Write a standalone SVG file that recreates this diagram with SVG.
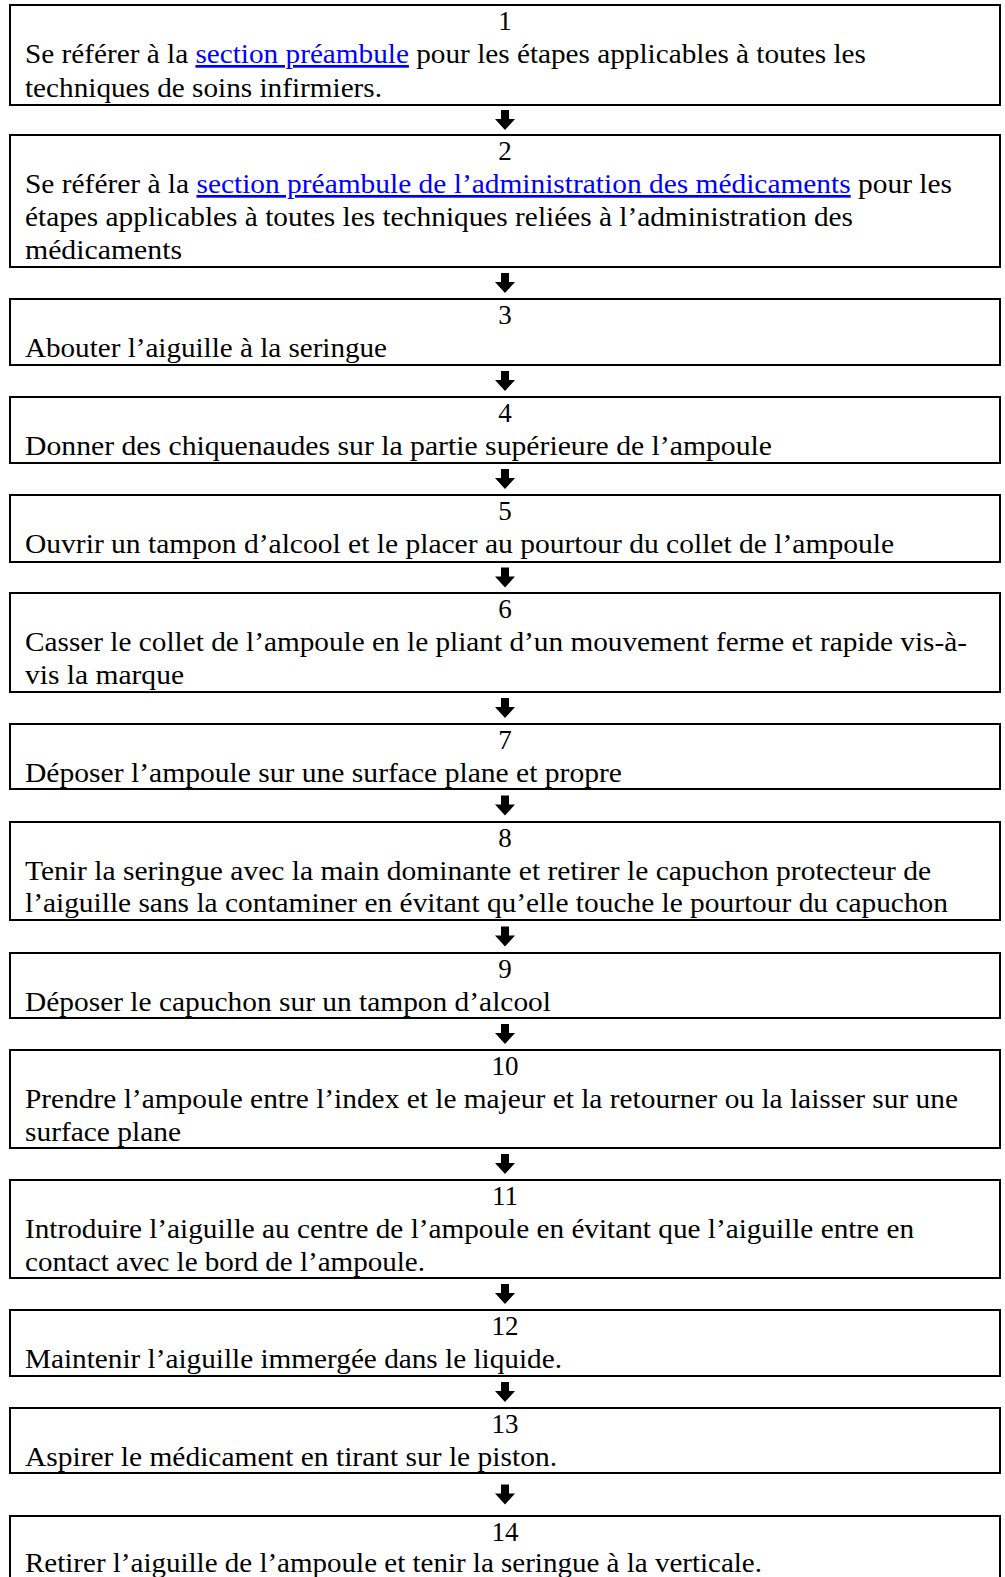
<svg xmlns="http://www.w3.org/2000/svg" width="1005" height="1577" viewBox="0 0 1005 1577">
<style>
.box{fill:#fff;stroke:#000;stroke-width:2}
.n{font-family:"Liberation Serif","Times New Roman",serif;font-size:27px;fill:#000;text-anchor:middle}
.t{font-family:"Liberation Serif","Times New Roman",serif;font-size:27px;fill:#000}
.lk{fill:#0000ff;text-decoration:underline}
.arr{fill:#000;stroke:none}
</style>
<rect width="1005" height="1577" fill="#fff"/>
<g id="connectors">
<path class="arr" d="M501 110h8v9h6l-10 11l-10 -11h6z"/>
<path class="arr" d="M501 273h8v9h6l-10 11l-10 -11h6z"/>
<path class="arr" d="M501 371h8v9h6l-10 11l-10 -11h6z"/>
<path class="arr" d="M501 469h8v9h6l-10 11l-10 -11h6z"/>
<path class="arr" d="M501 567.5h8v9h6l-10 11l-10 -11h6z"/>
<path class="arr" d="M501 698h8v9h6l-10 11l-10 -11h6z"/>
<path class="arr" d="M501 795.5h8v9h6l-10 11l-10 -11h6z"/>
<path class="arr" d="M501 926.5h8v9h6l-10 11l-10 -11h6z"/>
<path class="arr" d="M501 1024h8v9h6l-10 11l-10 -11h6z"/>
<path class="arr" d="M501 1154h8v9h6l-10 11l-10 -11h6z"/>
<path class="arr" d="M501 1284h8v9h6l-10 11l-10 -11h6z"/>
<path class="arr" d="M501 1382h8v9h6l-10 11l-10 -11h6z"/>
<path class="arr" d="M501 1484.5h8v9h6l-10 11l-10 -11h6z"/>
</g>
<g id="step1">
<rect class="box" x="10" y="5" width="990" height="100"/>
<text class="n" x="505" y="30">1</text>
<text class="t" x="25" y="63" textLength="841" lengthAdjust="spacingAndGlyphs">Se référer à la <tspan class="lk">section préambule</tspan> pour les étapes applicables à toutes les</text>
<text class="t" x="25" y="97" textLength="357" lengthAdjust="spacingAndGlyphs">techniques de soins infirmiers.</text>
</g>
<g id="step2">
<rect class="box" x="10" y="135" width="990" height="132"/>
<text class="n" x="505" y="160">2</text>
<text class="t" x="25" y="193" textLength="927" lengthAdjust="spacingAndGlyphs">Se référer à la <tspan class="lk">section préambule de l’administration des médicaments</tspan> pour les</text>
<text class="t" x="25" y="226" textLength="828" lengthAdjust="spacingAndGlyphs">étapes applicables à toutes les techniques reliées à l’administration des</text>
<text class="t" x="25" y="259" textLength="157" lengthAdjust="spacingAndGlyphs">médicaments</text>
</g>
<g id="step3">
<rect class="box" x="10" y="299" width="990" height="66"/>
<text class="n" x="505" y="324">3</text>
<text class="t" x="25" y="357" textLength="362" lengthAdjust="spacingAndGlyphs">Abouter l’aiguille à la seringue</text>
</g>
<g id="step4">
<rect class="box" x="10" y="397" width="990" height="66"/>
<text class="n" x="505" y="422">4</text>
<text class="t" x="25" y="455" textLength="747" lengthAdjust="spacingAndGlyphs">Donner des chiquenaudes sur la partie supérieure de l’ampoule</text>
</g>
<g id="step5">
<rect class="box" x="10" y="495" width="990" height="67"/>
<text class="n" x="505" y="520">5</text>
<text class="t" x="25" y="553" textLength="869" lengthAdjust="spacingAndGlyphs">Ouvrir un tampon d’alcool et le placer au pourtour du collet de l’ampoule</text>
</g>
<g id="step6">
<rect class="box" x="10" y="593" width="990" height="99"/>
<text class="n" x="505" y="618">6</text>
<text class="t" x="25" y="651" textLength="942" lengthAdjust="spacingAndGlyphs">Casser le collet de l’ampoule en le pliant d’un mouvement ferme et rapide vis-à-</text>
<text class="t" x="25" y="684" textLength="159" lengthAdjust="spacingAndGlyphs">vis la marque</text>
</g>
<g id="step7">
<rect class="box" x="10" y="724" width="990" height="65"/>
<text class="n" x="505" y="749">7</text>
<text class="t" x="25" y="782" textLength="597" lengthAdjust="spacingAndGlyphs">Déposer l’ampoule sur une surface plane et propre</text>
</g>
<g id="step8">
<rect class="box" x="10" y="822" width="990" height="98"/>
<text class="n" x="505" y="847">8</text>
<text class="t" x="25" y="880" textLength="906" lengthAdjust="spacingAndGlyphs">Tenir la seringue avec la main dominante et retirer le capuchon protecteur de</text>
<text class="t" x="25" y="912" textLength="923" lengthAdjust="spacingAndGlyphs">l’aiguille sans la contaminer en évitant qu’elle touche le pourtour du capuchon</text>
</g>
<g id="step9">
<rect class="box" x="10" y="953" width="990" height="65"/>
<text class="n" x="505" y="978">9</text>
<text class="t" x="25" y="1011" textLength="526" lengthAdjust="spacingAndGlyphs">Déposer le capuchon sur un tampon d’alcool</text>
</g>
<g id="step10">
<rect class="box" x="10" y="1050" width="990" height="98"/>
<text class="n" x="505" y="1075">10</text>
<text class="t" x="25" y="1108" textLength="933" lengthAdjust="spacingAndGlyphs">Prendre l’ampoule entre l’index et le majeur et la retourner ou la laisser sur une</text>
<text class="t" x="25" y="1141" textLength="156" lengthAdjust="spacingAndGlyphs">surface plane</text>
</g>
<g id="step11">
<rect class="box" x="10" y="1180" width="990" height="98"/>
<text class="n" x="505" y="1205">11</text>
<text class="t" x="25" y="1238" textLength="889" lengthAdjust="spacingAndGlyphs">Introduire l’aiguille au centre de l’ampoule en évitant que l’aiguille entre en</text>
<text class="t" x="25" y="1271" textLength="400" lengthAdjust="spacingAndGlyphs">contact avec le bord de l’ampoule.</text>
</g>
<g id="step12">
<rect class="box" x="10" y="1310" width="990" height="66"/>
<text class="n" x="505" y="1335">12</text>
<text class="t" x="25" y="1368" textLength="537" lengthAdjust="spacingAndGlyphs">Maintenir l’aiguille immergée dans le liquide.</text>
</g>
<g id="step13">
<rect class="box" x="10" y="1408" width="990" height="65"/>
<text class="n" x="505" y="1433">13</text>
<text class="t" x="25" y="1466" textLength="532" lengthAdjust="spacingAndGlyphs">Aspirer le médicament en tirant sur le piston.</text>
</g>
<g id="step14">
<rect class="box" x="10" y="1516" width="990" height="80"/>
<text class="n" x="505" y="1541">14</text>
<text class="t" x="25" y="1572" textLength="737" lengthAdjust="spacingAndGlyphs">Retirer l’aiguille de l’ampoule et tenir la seringue à la verticale.</text>
</g>
</svg>
